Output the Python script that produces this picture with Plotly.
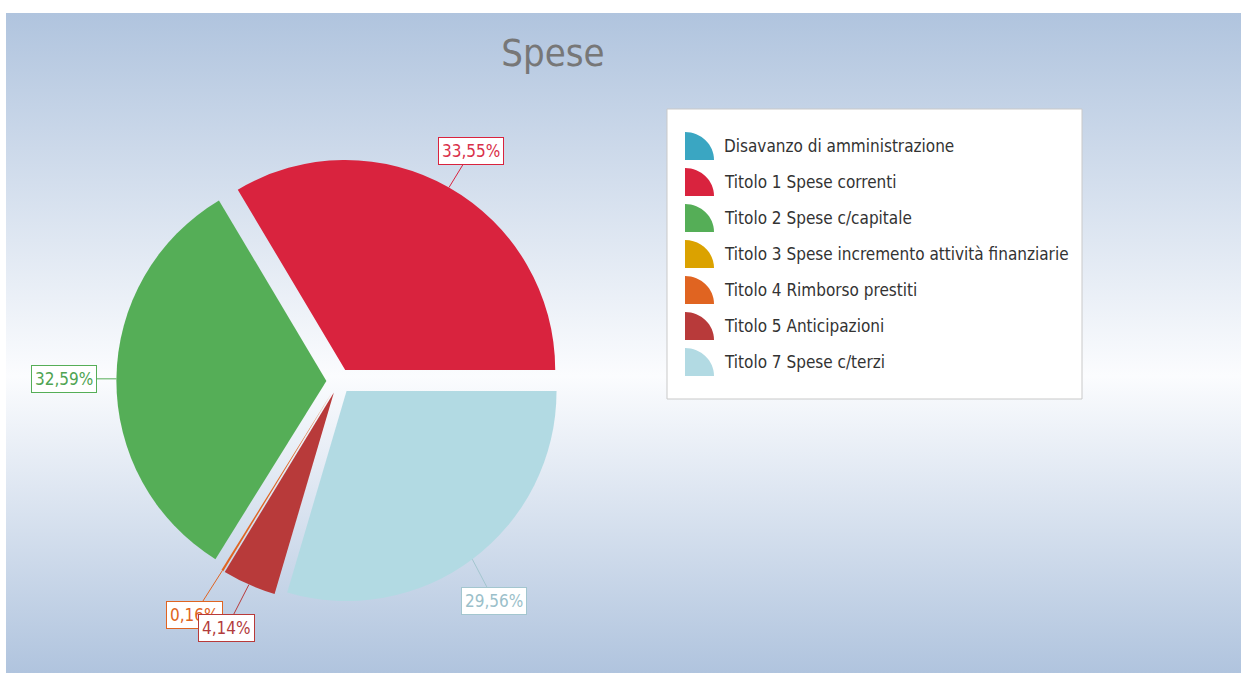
import math
import urllib.parse
import plotly.graph_objects as go

# ---------------- data ----------------
categories = [
    "Disavanzo di amministrazione",
    "Titolo 1 Spese correnti",
    "Titolo 2 Spese c/capitale",
    "Titolo 3 Spese incremento attività finanziarie",
    "Titolo 4 Rimborso prestiti",
    "Titolo 5 Anticipazioni",
    "Titolo 7 Spese c/terzi",
]
values = [0, 33.55, 32.59, 0, 0.16, 4.14, 29.56]
colors = ["#3aa6c2", "#d9233e", "#55ae57", "#dba200", "#e06421", "#b83a3a", "#b2dae3"]
label_text_colors = ["#3aa6c2", "#d9304a", "#4fa452", "#dba200", "#e06421", "#b23c3c", "#9bbfca"]
label_border_colors = ["#3aa6c2", "#d9233e", "#55ae57", "#dba200", "#e06421", "#b83a3a", "#a3c6cf"]
title_text = "Spese"

# ---------------- layout constants ----------------
W, H = 1241, 673
CX, CY, R, PULL = 339, 381, 210, 0.06
FONT = "DejaVu Sans Condensed, Liberation Sans Narrow, Roboto Condensed, sans-serif"
# label box offsets (pixels) from slice edge point, per category index
label_offsets = {1: (22, -36), 2: (-52, 0), 4: (-28, 44), 5: (-22, 43), 6: (22, 42)}

half = R * (1 + PULL)
domain_x = [(CX - half) / W, (CX + half) / W]
domain_y = [1 - (CY + half) / H, 1 - (CY - half) / H]

fig = go.Figure()
fig.add_trace(go.Pie(
    labels=categories,
    values=values,
    marker=dict(colors=colors, line=dict(width=0)),
    sort=False,
    direction="counterclockwise",
    rotation=90,
    pull=PULL,
    textinfo="none",
    hoverinfo="label+percent",
    showlegend=False,
    domain=dict(x=domain_x, y=domain_y),
))

# invisible pixel axes for decorations
fig.add_trace(go.Scatter(x=[0, W], y=[0, H], mode="markers", marker=dict(opacity=0),
                         hoverinfo="skip", showlegend=False))

# background gradient
svg = ('<svg xmlns="http://www.w3.org/2000/svg" width="100" height="100" preserveAspectRatio="none">'
       '<defs><linearGradient id="g" x1="0" y1="0" x2="0" y2="1">'
       '<stop offset="0" stop-color="#b0c4de"/><stop offset="0.55" stop-color="#fbfcfe"/>'
       '<stop offset="1" stop-color="#b0c4de"/></linearGradient></defs>'
       '<rect width="100" height="100" fill="url(#g)"/></svg>')
src = "data:image/svg+xml;charset=utf-8," + urllib.parse.quote(svg)
fig.add_layout_image(dict(source=src, xref="paper", yref="paper", x=6 / W, y=1 - 13 / H,
                          sizex=(W - 6) / W, sizey=(H - 13) / H, xanchor="left", yanchor="top",
                          sizing="stretch", layer="below"))

# value labels
total = sum(values)
cum = 0.0
r_edge = R * (1 + PULL)
for i, v in enumerate(values):
    if v > 0:
        theta = 2 * math.pi * (cum + v / 2) / total
        px = CX + r_edge * math.cos(theta)
        py = CY - r_edge * math.sin(theta)
        dx, dy = label_offsets[i]
        txt = f"{v / total * 100:.2f}".replace(".", ",") + "%"
        fig.add_annotation(x=px, y=py, xref="x", yref="y", ax=dx, ay=dy, text=txt,
                           showarrow=True, arrowhead=0, arrowwidth=1,
                           arrowcolor=label_border_colors[i],
                           standoff=0, bgcolor="white", bordercolor=label_border_colors[i],
                           borderwidth=1, borderpad=3,
                           font=dict(family=FONT, size=17, color=label_text_colors[i]))
    cum += v

# legend box
LX0, LY0, LX1, LY1 = 667, 109, 1082, 399
fig.add_shape(type="rect", xref="x", yref="y", x0=LX0, y0=LY0, x1=LX1, y1=LY1,
              fillcolor="white", line=dict(color="#c9c9c9", width=1), layer="below")
k = 0.5523
for i, cat in enumerate(categories):
    yc = 146 + 36 * i
    x0, x1 = 685, 714
    y0, y1 = yc - 14, yc + 14
    w, h = x1 - x0, y1 - y0
    path = (f"M {x0},{y1} L {x0},{y0} C {x0 + k * w},{y0} {x1},{y1 - k * h} {x1},{y1} Z")
    fig.add_shape(type="path", xref="x", yref="y", path=path, fillcolor=colors[i],
                  line=dict(width=0))
    fig.add_annotation(x=722, y=yc, xref="x", yref="y", text=cat, showarrow=False,
                       xanchor="left", yanchor="middle",
                       font=dict(family=FONT, size=17, color="#333333"))

fig.update_layout(
    width=W, height=H,
    margin=dict(l=0, r=0, t=0, b=0),
    paper_bgcolor="white", plot_bgcolor="rgba(0,0,0,0)",
    title=dict(text=title_text, x=553 / W, y=1 - 53 / H, xanchor="center", yanchor="middle",
               font=dict(family=FONT, size=38, color="#777777")),
    xaxis=dict(range=[0, W], visible=False, fixedrange=True, domain=[0, 1]),
    yaxis=dict(range=[H, 0], visible=False, fixedrange=True, domain=[0, 1]),
    showlegend=False,
)

fig.write_html("out.html", config={"displayModeBar": False},
               post_script="document.body.style.margin='0px';document.body.style.overflow='hidden';")
